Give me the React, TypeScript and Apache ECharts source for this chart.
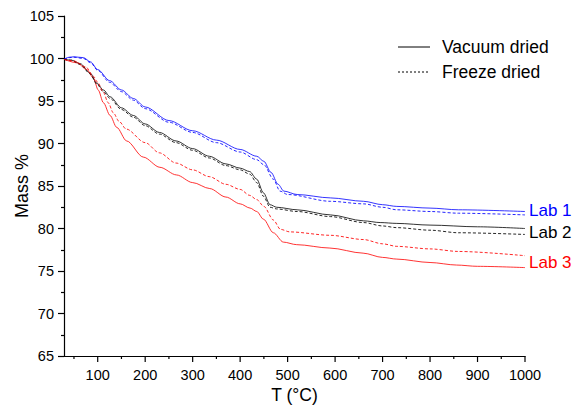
import React, { useEffect, useRef } from "react";
import * as echarts from "echarts";

// ---- Data ----
const xMin = 29;
const xMax = 1000;
const xLabelValues = [100, 200, 300, 400, 500, 600, 700, 800, 900, 1000];
const xMinorValues = [50, 150, 250, 350, 450, 550, 650, 750, 850, 950];

const lab1VacT = [29, 40, 50, 70, 85, 100, 125, 150, 175, 200, 250, 300, 350, 400, 435, 450, 465, 480, 492, 520, 590, 660, 700, 730, 800, 860, 1000];
const lab1VacM = [99.9, 100.15, 100.2, 100.1, 99.6, 98.7, 97.4, 96.3, 95.3, 94.3, 92.7, 91.5, 90.4, 89.3, 88.5, 87.9, 86.6, 85.2, 84.4, 84.0, 83.6, 83.2, 82.8, 82.6, 82.4, 82.2, 82.0];

const lab1FrzT = [29, 40, 50, 70, 85, 100, 125, 150, 175, 200, 250, 300, 350, 400, 435, 450, 470, 484, 500, 590, 660, 700, 730, 800, 860, 1000];
const lab1FrzM = [99.9, 100.1, 100.15, 100.0, 99.5, 98.6, 97.2, 96.1, 95.1, 94.1, 92.5, 91.3, 90.1, 89.0, 88.1, 87.5, 85.8, 84.4, 84.0, 83.2, 82.9, 82.5, 82.2, 82.0, 81.8, 81.6];

const lab2VacT = [29, 45, 63, 84, 98, 112, 126, 150, 175, 200, 230, 265, 300, 335, 370, 400, 420, 435, 449, 463, 477, 520, 590, 660, 695, 730, 800, 900, 1000];
const lab2VacM = [99.9, 99.8, 99.4, 98.3, 97.1, 96.3, 95.5, 94.2, 93.3, 92.3, 91.3, 90.3, 89.4, 88.5, 87.6, 87.1, 86.7, 85.8, 84.2, 82.8, 82.5, 82.2, 81.6, 80.9, 80.7, 80.6, 80.4, 80.2, 80.0];

const lab2FrzT = [29, 45, 63, 84, 98, 112, 126, 150, 175, 200, 230, 265, 300, 335, 370, 400, 420, 435, 449, 463, 477, 520, 590, 660, 700, 730, 800, 860, 1000];
const lab2FrzM = [99.9, 99.8, 99.3, 98.2, 97.0, 96.1, 95.3, 94.0, 93.1, 92.1, 91.1, 90.1, 89.2, 88.3, 87.4, 86.9, 86.4, 85.4, 83.8, 82.5, 82.3, 82.0, 81.4, 80.7, 80.3, 80.1, 79.8, 79.5, 79.3];

const lab3VacT = [29, 56, 77, 91, 101, 112, 126, 140, 161, 196, 231, 266, 300, 336, 370, 400, 421, 435, 449, 470, 491, 519, 589, 659, 700, 730, 800, 856, 900, 1000];
const lab3VacM = [99.9, 99.5, 98.7, 97.7, 96.3, 94.8, 93.3, 91.9, 90.3, 88.4, 87.2, 86.3, 85.4, 84.7, 83.7, 82.9, 82.4, 82.0, 81.1, 79.5, 78.4, 78.1, 77.7, 77.1, 76.6, 76.4, 76.0, 75.7, 75.55, 75.4];

const lab3FrzT = [29, 50, 75, 91, 100, 112, 122, 133, 145, 160, 200, 230, 265, 300, 335, 370, 400, 420, 435, 450, 470, 485, 505, 590, 660, 700, 730, 800, 860, 1000];
const lab3FrzM = [99.9, 99.7, 99.0, 97.9, 97.2, 96.0, 94.8, 93.6, 92.6, 91.7, 90.1, 88.9, 87.7, 86.9, 86.1, 85.2, 84.6, 83.9, 83.4, 82.6, 81.0, 79.9, 79.6, 79.2, 78.7, 78.2, 77.9, 77.6, 77.3, 76.8];

const labNames = ["Lab 1", "Lab 2", "Lab 3"];
const labColors = ["#0000ff", "#000000", "#ff0000"];

const FONT = 'Arial, "Liberation Sans", sans-serif';
const Y_MIN = 65;

function zip(t: number[], m: number[]) {
  return t.map((v, i) => [v, m[i]]);
}

export default function App() {
  const ref = useRef<HTMLDivElement>(null);

  useEffect(() => {
    if (!ref.current) return;
    const chart = echarts.init(ref.current, null, { renderer: "svg" });

    const mk = (name: string, t: number[], m: number[], color: string, dashed: boolean) => ({
      name,
      type: "line",
      xAxisIndex: 0,
      yAxisIndex: 0,
      data: zip(t, m),
      showSymbol: false,
      symbol: "none",
      smooth: 0.3,
      smoothMonotone: "x",
      lineStyle: {
        color,
        width: 1,
        type: dashed ? [3, 2] : "solid",
        opacity: dashed ? 0.85 : 0.8,
      },
      z: dashed ? 3 : 2,
    });

    const tickStyle = { color: "#000", width: 1.2 };

    // x-axis ticks drawn at data values via the axis scale
    const tickData = [
      ...xLabelValues.map((v) => [v, 6]),
      ...xMinorValues.map((v) => [v, 3]),
    ];

    const option: any = {
      animation: false,
      backgroundColor: "#ffffff",
      grid: { left: 64, right: 60, top: 16, bottom: 51, containLabel: false, outerBoundsMode: "none" },
      xAxis: {
        type: "value",
        min: xMin,
        max: xMax,
        name: "T (°C)",
        nameLocation: "middle",
        nameGap: 30,
        nameMoveOverlap: false,
        nameTextStyle: { fontFamily: FONT, fontSize: 17.5, color: "#000" },
        axisLine: { show: true, onZero: false, lineStyle: { color: "#000", width: 1.2 } },
        axisTick: { show: false },
        axisLabel: {
          show: true,
          customValues: xLabelValues,
          formatter: (v: number) => String(v),
          fontFamily: FONT,
          fontSize: 14.5,
          color: "#000",
          margin: 11,
        },
        splitLine: { show: false },
      },
      yAxis: {
        type: "value",
        min: Y_MIN,
        max: 105,
        interval: 5,
        name: "Mass %",
        nameLocation: "middle",
        nameGap: 33,
        nameMoveOverlap: false,
        nameRotate: 90,
        nameTextStyle: { fontFamily: FONT, fontSize: 18, color: "#000" },
        axisLine: { show: true, onZero: false, lineStyle: { color: "#000", width: 1.2 } },
        axisTick: { show: true, inside: false, length: 6, lineStyle: tickStyle },
        minorTick: { show: true, splitNumber: 2, length: 3, lineStyle: tickStyle },
        axisLabel: { fontFamily: FONT, fontSize: 14.5, color: "#000", margin: 10 },
        splitLine: { show: false },
        minorSplitLine: { show: false },
      },
      series: [
        mk("Lab 1 vacuum", lab1VacT, lab1VacM, labColors[0], false),
        mk("Lab 1 freeze", lab1FrzT, lab1FrzM, labColors[0], true),
        mk("Lab 2 vacuum", lab2VacT, lab2VacM, labColors[1], false),
        mk("Lab 2 freeze", lab2FrzT, lab2FrzM, labColors[1], true),
        mk("Lab 3 vacuum", lab3VacT, lab3VacM, labColors[2], false),
        mk("Lab 3 freeze", lab3FrzT, lab3FrzM, labColors[2], true),
        {
          name: "x ticks",
          type: "custom",
          clip: false,
          silent: true,
          data: tickData,
          encode: { x: 0 },
          renderItem: (_params: any, api: any) => {
            const p = api.coord([api.value(0), Y_MIN]);
            const len = api.value(1);
            return {
              type: "line",
              shape: { x1: p[0], y1: p[1], x2: p[0], y2: p[1] + len },
              style: { stroke: "#000", lineWidth: 1.2 },
            };
          },
          z: 5,
        },
      ],
      graphic: [
        {
          type: "line",
          shape: { x1: 398, y1: 47, x2: 430, y2: 47 },
          style: { stroke: "#000", lineWidth: 1 },
        },
        {
          type: "text",
          x: 442,
          y: 47,
          style: { text: "Vacuum dried", font: `17.5px ${FONT}`, fill: "#000", verticalAlign: "middle" },
        },
        {
          type: "line",
          shape: { x1: 398, y1: 72, x2: 430, y2: 72 },
          style: { stroke: "#000", lineWidth: 1, lineDash: [2, 2] },
        },
        {
          type: "text",
          x: 442,
          y: 72,
          style: { text: "Freeze dried", font: `17.5px ${FONT}`, fill: "#000", verticalAlign: "middle" },
        },
        ...labNames.map((n, i) => ({
          type: "text",
          x: 529,
          y: [210, 232, 262][i],
          style: { text: n, font: `17px ${FONT}`, fill: labColors[i], verticalAlign: "middle" },
        })),
      ],
    };

    chart.setOption(option);
    return () => chart.dispose();
  }, []);

  return (
    <div
      ref={ref}
      style={{ position: "absolute", left: 0, top: 0, width: 585, height: 407, background: "#fff" }}
    />
  );
}
